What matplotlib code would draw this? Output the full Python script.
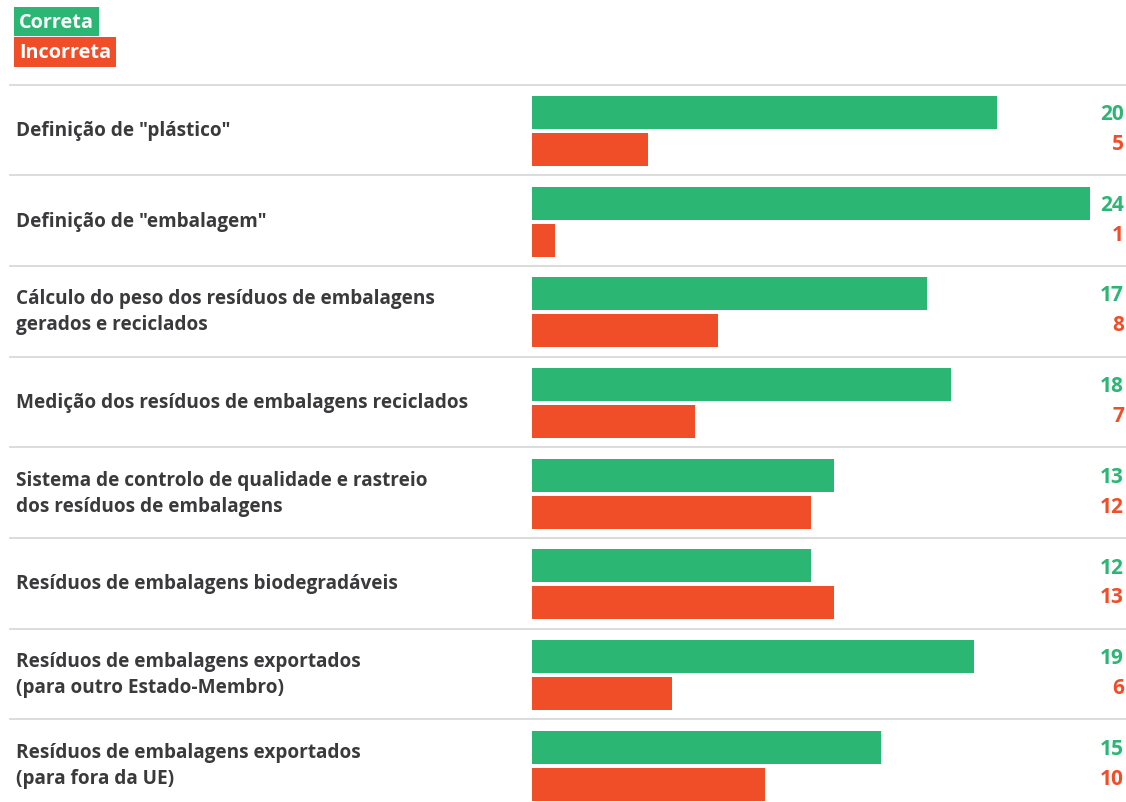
import numpy as np
import matplotlib.pyplot as plt
from matplotlib.transforms import blended_transform_factory


# Data
categories = [
    'Definição de "plástico"',
    'Definição de "embalagem"',
    'Cálculo do peso dos resíduos de embalagens\ngerados e reciclados',
    'Medição dos resíduos de embalagens reciclados',
    'Sistema de controlo de qualidade e rastreio\ndos resíduos de embalagens',
    'Resíduos de embalagens biodegradáveis',
    'Resíduos de embalagens exportados\n(para outro Estado-Membro)',
    'Resíduos de embalagens exportados\n(para fora da UE)',
]
correta = [20, 24, 17, 18, 13, 12, 19, 15]
incorreta = [5, 1, 8, 7, 12, 13, 6, 10]

GREEN = '#2bb673'
RED = '#f04e28'
TEXT = '#3a3a3c'
FONT = 'Open Sans'

W, H = 1126, 803
ROW = 90.7      # row height in px
TOP = 85.5      # first separator, px from top

fig = plt.figure(figsize=(W / 100, H / 100), dpi=100)
ax = fig.add_axes([532 / W, 0, (1090 - 532) / W, 1])
ax.set_xlim(0, 24)
ax.set_ylim((H - TOP) / ROW - 0.5, -TOP / ROW - 0.5)
ax.axis('off')

y = np.arange(len(categories))
bh = 33 / ROW
ax.barh(y - 17.5 / ROW, correta, height=bh, color=GREEN)
ax.barh(y + 19.5 / ROW, incorreta, height=bh, color=RED)

# separators across the full width
tr = blended_transform_factory(fig.transFigure, ax.transData)
for s in np.arange(len(categories) + 1) - 0.5:
    ax.plot([10 / W, 1], [s, s], color='#d9d9d9', lw=1.3,
            transform=tr, clip_on=False)

# category labels and values
for i, name in enumerate(categories):
    ax.text(16 / W, i, name, transform=tr, ha='left', va='center',
            fontsize=13.7, fontweight='bold', color=TEXT, family=FONT,
            linespacing=1.4)
    ax.text(1124 / W, i - 0.18, str(correta[i]), transform=tr, ha='right',
            va='center', fontsize=15, fontweight='bold', color=GREEN, family=FONT)
    ax.text(1124 / W, i + 0.15, str(incorreta[i]), transform=tr, ha='right',
            va='center', fontsize=15, fontweight='bold', color=RED, family=FONT)

# legend boxes
fig.text(19 / W, 1 - 22.5 / H, 'Correta', ha='left', va='center', color='white',
         fontsize=14.3, fontweight='bold', family=FONT,
         bbox=dict(boxstyle='square,pad=0.25', fc=GREEN, ec='none'))
fig.text(19 / W, 1 - 53 / H, 'Incorreta', ha='left', va='center', color='white',
         fontsize=14.3, fontweight='bold', family=FONT,
         bbox=dict(boxstyle='square,pad=0.25', fc=RED, ec='none'))

fig.savefig('out.png', dpi=100)
